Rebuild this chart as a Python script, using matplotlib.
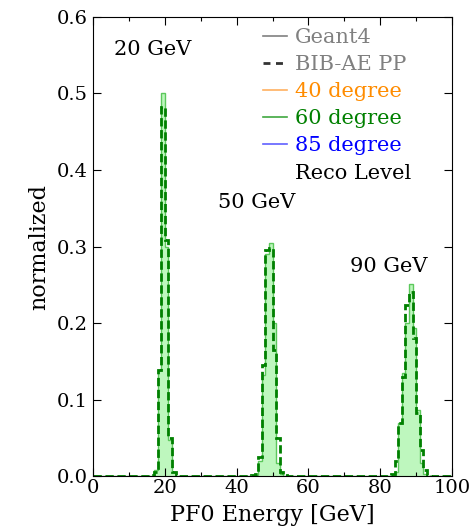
import numpy as np
import matplotlib
matplotlib.use('Agg')
import matplotlib.pyplot as plt
from matplotlib.lines import Line2D

plt.rcParams['font.family'] = 'DejaVu Serif'
plt.rcParams['mathtext.fontset'] = 'dejavuserif'

# 1 GeV bins from 0 to 100
edges = np.arange(0, 101, 1)

# Geant4 (60 degree) histogram, normalized, non-zero bins per peak
g4_20_start = 17
g4_20_vals = [0.008, 0.138, 0.500, 0.300, 0.047, 0.005]
g4_50_start = 45
g4_50_vals = [0.002, 0.020, 0.132, 0.290, 0.304, 0.200, 0.017, 0.003]
g4_90_start = 83
g4_90_vals = [0.002, 0.005, 0.069, 0.135, 0.200, 0.251, 0.193, 0.086, 0.017, 0.003]

# BIB-AE PP (60 degree) histogram
ae_20_start = 16
ae_20_vals = [0.002, 0.005, 0.138, 0.482, 0.308, 0.050, 0.005, 0.002]
ae_50_start = 44
ae_50_vals = [0.001, 0.003, 0.025, 0.145, 0.295, 0.298, 0.165, 0.050, 0.005, 0.002]
ae_90_start = 82
ae_90_vals = [0.001, 0.003, 0.020, 0.070, 0.130, 0.224, 0.240, 0.180, 0.082, 0.034, 0.008, 0.002]

peak_labels = ['20 GeV', '50 GeV', '90 GeV']
peak_label_x = [5.8, 34.8, 71.6]
peak_label_y = [0.558, 0.358, 0.274]


def build(parts):
    h = np.zeros(len(edges) - 1)
    for start, vals in parts:
        h[start:start + len(vals)] = vals
    return h


g4 = build([(g4_20_start, g4_20_vals), (g4_50_start, g4_50_vals), (g4_90_start, g4_90_vals)])
ae = build([(ae_20_start, ae_20_vals), (ae_50_start, ae_50_vals), (ae_90_start, ae_90_vals)])

fig = plt.figure(figsize=(4.74, 5.29), dpi=100)
ax = fig.add_axes([0.196, 0.100, 0.758, 0.868])

ax.stairs(g4, edges, fill=True, color='#a8f5a8', alpha=0.75, linewidth=0)
ax.stairs(g4, edges, color='#5cc85c', linewidth=1.0)
ax.stairs(ae, edges, color='green', linewidth=2.0, linestyle=(0, (3, 1.3)))

for lab, x, y in zip(peak_labels, peak_label_x, peak_label_y):
    ax.text(x, y, lab, fontsize=15, va='center', ha='left')

handles = [
    Line2D([], [], color='gray', lw=1.2),
    Line2D([], [], color='#333333', lw=2, linestyle=(0, (2.5, 2))),
    Line2D([], [], color='#ffb060', lw=1.2),
    Line2D([], [], color='#40a840', lw=1.2),
    Line2D([], [], color='#6060ff', lw=1.2),
    Line2D([], [], color='none'),
]
labels = ['Geant4', 'BIB-AE PP', '40 degree', '60 degree', '85 degree', 'Reco Level']
text_colors = ['gray', 'gray', 'darkorange', 'green', 'blue', 'black']
leg = ax.legend(handles, labels, loc='upper left', bbox_to_anchor=(0.473, 0.976),
                frameon=False, fontsize=15, handlelength=1.15, handletextpad=0.38,
                labelspacing=0.39, borderpad=0, borderaxespad=0)
for t, c in zip(leg.get_texts(), text_colors):
    t.set_color(c)

ax.set_xlim(0, 100)
ax.set_ylim(0, 0.6)
ax.set_xticks([0, 20, 40, 60, 80, 100])
ax.set_xticks(np.arange(0, 101, 10), minor=True)
ax.set_yticks(np.arange(0, 0.61, 0.1))
ax.tick_params(direction='in', top=True, right=True, labelsize=14, length=6, width=0.8)
ax.tick_params(axis='x', pad=2)
ax.tick_params(which='minor', direction='in', top=True, right=True, length=3, width=0.8)
ax.set_xlabel('PF0 Energy [GeV]', fontsize=16, labelpad=5)
ax.set_ylabel('normalized', fontsize=16, labelpad=5)

fig.savefig('out.png', dpi=100)
